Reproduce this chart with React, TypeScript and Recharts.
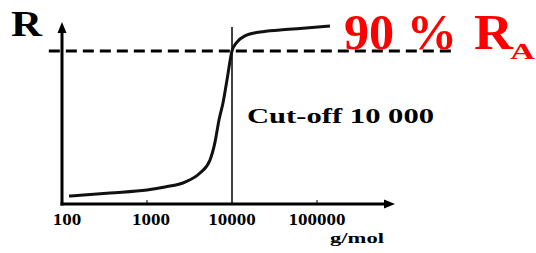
import { Line, LineChart, ReferenceLine, XAxis, YAxis } from "recharts"

const massGmol = [121, 367, 1000, 1630, 2800, 4200, 5510, 6310, 7030, 7830, 8730, 10000, 11450, 14200, 21300, 36700, 63100, 142000]
const retention = [4.7, 6.5, 8.2, 10.0, 12.9, 18.2, 25.9, 36.4, 49.4, 59.4, 72.9, 90, 95.2, 98.8, 101.1, 102.3, 103.2, 104.6]
const massTicks = [100, 1000, 10000, 100000]
const tickMarks = [1000, 100000]
const cutOff = 10000
const ninetyPercent = 90

const data = massGmol.map((m, i) => ({ m, r: retention[i] }))

const serif = "'Liberation Serif', 'Times New Roman', Times, serif"
const txt = { fontFamily: serif, fontWeight: 700 }

const YArrow = (p: any) => {
  const x = p.x1
  const top = Math.min(p.y1, p.y2)
  const bottom = Math.max(p.y1, p.y2)
  return (
    <g>
      <line x1={x} y1={bottom + 1.5} x2={x} y2={top + 6} stroke='#000' strokeWidth={3} />
      <path d={`M${x - 4.5},${top + 11} L${x},${top} L${x + 4.5},${top + 11} Z`} fill='#000' />
    </g>
  )
}

const XArrow = (p: any) => {
  const y = p.y1
  const left = Math.min(p.x1, p.x2)
  const right = Math.max(p.x1, p.x2)
  return (
    <g>
      <line x1={left - 1.5} y1={y} x2={right - 6} y2={y} stroke='#000' strokeWidth={3} />
      <path d={`M${right - 11},${y - 4.5} L${right},${y} L${right - 11},${y + 4.5} Z`} fill='#000' />
    </g>
  )
}

const MassTick = (props: any) => {
  const { x, y, payload, index } = props
  const v = payload.value
  const label = String(v)
  return (
    <g>
      {tickMarks.includes(v) && (
        <line x1={x} y1={y - 4} x2={x} y2={y} stroke='#000' strokeWidth={1} />
      )}
      <text
        x={x + (index === 0 ? 5 : index === 1 ? 4 : 0)}
        y={y + 21}
        textAnchor='middle'
        style={txt}
        fontSize={17}
        fill='#000'
        textLength={label.length * 9.5}
        lengthAdjust='spacingAndGlyphs'
      >
        {label}
      </text>
    </g>
  )
}

const App = () => {
  return (
    <div style={{ position: "absolute", left: 0, top: 0, width: 536, height: 253, background: "#fff" }}>
      <LineChart
        width={536}
        height={253}
        data={data}
        margin={{ top: 22, right: 141, left: 62, bottom: 19 }}
      >
        <XAxis
          dataKey='m'
          type='number'
          scale='log'
          domain={[100, 827000]}
          ticks={massTicks}
          allowDataOverflow
          axisLine={false}
          tickLine={false}
          tickSize={0}
          tickMargin={0}
          height={30}
          tick={<MassTick />}
        />
        <YAxis type='number' domain={[0, 107]} hide allowDataOverflow />
        <ReferenceLine x={100} shape={YArrow} />
        <ReferenceLine y={0} shape={XArrow} />
        <ReferenceLine
          segment={[{ x: 70, y: ninetyPercent }, { x: 3980000, y: ninetyPercent }]}
          ifOverflow='visible'
          stroke='#000'
          strokeWidth={3}
          strokeDasharray='11 6'
        />
        <ReferenceLine
          segment={[{ x: cutOff, y: 0 }, { x: cutOff, y: 104 }]}
          ifOverflow='visible'
          stroke='#000'
          strokeWidth={1.5}
        />
        <Line
          type='monotone'
          dataKey='r'
          stroke='#111'
          strokeWidth={3}
          dot={false}
          isAnimationActive={false}
        />
      </LineChart>
      <svg
        width={536}
        height={253}
        style={{ position: "absolute", left: 0, top: 0, pointerEvents: "none" }}
      >
        <text x={11} y={36} style={txt} fontSize={36} fill='#000' textLength={31} lengthAdjust='spacingAndGlyphs'>
          R
        </text>
        <text x={344} y={49} style={txt} fontSize={50} fill='#ff0000' textLength={113} lengthAdjust='spacingAndGlyphs'>
          90 %
        </text>
        <text x={474} y={49} style={txt} fontSize={50} fill='#ff0000' textLength={39} lengthAdjust='spacingAndGlyphs'>
          R
        </text>
        <text x={510} y={59} style={txt} fontSize={24} fill='#ff0000' textLength={25} lengthAdjust='spacingAndGlyphs'>
          A
        </text>
        <text x={247} y={123} style={txt} fontSize={21} fill='#000' textLength={187} lengthAdjust='spacingAndGlyphs'>
          Cut-off 10 000
        </text>
        <text x={330} y={243} style={txt} fontSize={15} fill='#000' textLength={54} lengthAdjust='spacingAndGlyphs'>
          g/mol
        </text>
      </svg>
    </div>
  )
}

export default App
